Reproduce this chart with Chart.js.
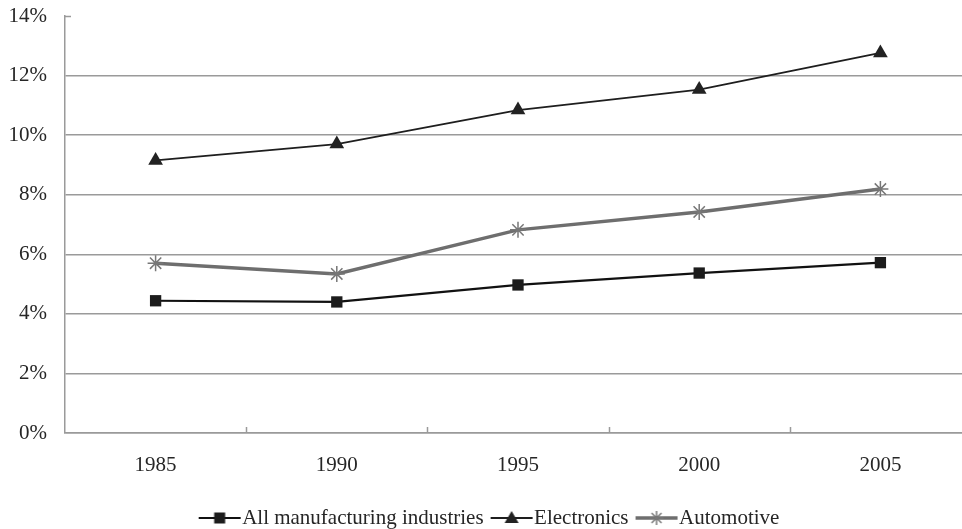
<!DOCTYPE html>
<html>
<head>
<meta charset="utf-8">
<script src="https://cdn.jsdelivr.net/npm/chart.js@4/dist/chart.umd.min.js"></script>
<style>
  html, body { margin: 0; padding: 0; overflow: hidden; background: #fff; }
  #wrap { width: 972px; height: 529px; position: relative; }
</style>
</head>
<body>
<div id="wrap"><canvas id="c"></canvas></div>
<script>
// Share of R&D / output by industry, percent
const years = ['1985', '1990', '1995', '2000', '2005'];
const allManufacturing = [4.44, 4.40, 4.97, 5.37, 5.72];
const electronics = [9.15, 9.70, 10.84, 11.53, 12.76];
const automotive = [5.70, 5.34, 6.82, 7.42, 8.19];
const seriesNames = ['All manufacturing industries', 'Electronics', 'Automotive'];
const yMin = 0, yMax = 14, yStep = 2;

const FONT = '"Liberation Serif", "Times New Roman", serif';
const GRID = '#9a9a9a';
const TEXT = '#262626';

// Small line-plus-marker swatches for the legend
function swatch(kind) {
  const c = document.createElement('canvas');
  c.width = 60; c.height = 22;
  const g = c.getContext('2d');
  const cx = 38, cy = 11;
  g.lineCap = 'butt';
  if (kind === 'rect') {
    g.strokeStyle = '#111'; g.lineWidth = 2.2;
    g.beginPath(); g.moveTo(17, cy); g.lineTo(59, cy); g.stroke();
    g.fillStyle = '#1c1c1c';
    g.fillRect(cx - 5.5, cy - 5.5, 11, 11);
  } else if (kind === 'triangle') {
    g.strokeStyle = '#1e1e1e'; g.lineWidth = 1.8;
    g.beginPath(); g.moveTo(17, cy); g.lineTo(59, cy); g.stroke();
    g.fillStyle = '#222';
    g.beginPath();
    g.moveTo(cx, cy - 7); g.lineTo(cx + 7, cy + 5); g.lineTo(cx - 7, cy + 5);
    g.closePath(); g.fill();
  } else {
    g.strokeStyle = '#6e6e6e'; g.lineWidth = 3.5;
    g.beginPath(); g.moveTo(17, cy); g.lineTo(59, cy); g.stroke();
    g.strokeStyle = '#777'; g.lineWidth = 1.5;
    g.beginPath();
    for (let k = 0; k < 4; k++) {
      const a = k * Math.PI / 4;
      g.moveTo(cx - 7 * Math.cos(a), cy - 7 * Math.sin(a));
      g.lineTo(cx + 7 * Math.cos(a), cy + 7 * Math.sin(a));
    }
    g.stroke();
  }
  return c;
}
const legendSwatches = [swatch('rect'), swatch('triangle'), swatch('star')];

// Inward tick marks between categories and at the top of the value axis
const innerTicks = {
  id: 'innerTicks',
  afterDraw(chart) {
    const { ctx, scales: { x, y } } = chart;
    ctx.save();
    ctx.strokeStyle = GRID;
    ctx.lineWidth = 1.5;
    ctx.beginPath();
    for (let i = 0; i < years.length - 1; i++) {
      const px = Math.round((x.getPixelForValue(i) + x.getPixelForValue(i + 1)) / 2) + 0.5;
      ctx.moveTo(px, x.top);
      ctx.lineTo(px, x.top - 6);
    }
    const ty = Math.round(y.getPixelForValue(yMax)) + 0.5;
    ctx.moveTo(y.right, ty);
    ctx.lineTo(y.right + 6, ty);
    ctx.stroke();
    ctx.restore();
  }
};

new Chart(document.getElementById('c'), {
  type: 'line',
  data: {
    labels: years,
    datasets: [
      {
        label: seriesNames[0],
        data: allManufacturing,
        borderColor: '#111',
        borderWidth: 2.2,
        pointStyle: 'rect',
        pointRadius: 8,
        pointBackgroundColor: '#1c1c1c',
        pointBorderColor: '#1c1c1c',
        pointBorderWidth: 0,
        tension: 0
      },
      {
        label: seriesNames[1],
        data: electronics,
        borderColor: '#1e1e1e',
        borderWidth: 1.8,
        pointStyle: 'triangle',
        pointRadius: 8.5,
        pointBackgroundColor: '#222',
        pointBorderColor: '#222',
        pointBorderWidth: 0,
        tension: 0
      },
      {
        label: seriesNames[2],
        data: automotive,
        borderColor: '#6e6e6e',
        borderWidth: 3.5,
        pointStyle: 'star',
        pointRadius: 8,
        pointBackgroundColor: '#777',
        pointBorderColor: '#777',
        pointBorderWidth: 1.5,
        tension: 0
      }
    ]
  },
  options: {
    responsive: true,
    maintainAspectRatio: false,
    animation: false,
    devicePixelRatio: 1,
    layout: { autoPadding: false, padding: { left: 0, right: 1, top: 16, bottom: -9.5 } },
    scales: {
      x: {
        type: 'category',
        offset: true,
        grid: { display: true, drawOnChartArea: false, drawTicks: false, offset: true },
        border: { display: true, color: GRID, width: 1.5 },
        ticks: {
          padding: 20,
          color: TEXT,
          font: { family: FONT, size: 21 },
          maxRotation: 0
        },
        afterFit(scale) { scale.height = 74.5; }
      },
      y: {
        min: yMin,
        max: yMax,
        grid: {
          drawTicks: true,
          tickLength: 18,
          tickColor: 'rgba(0,0,0,0)',
          lineWidth: 1.5,
          color: (ctx) => (ctx.tick && ctx.tick.value === yMax) ? 'rgba(0,0,0,0)' : GRID
        },
        border: { display: true, color: GRID, width: 1.5 },
        ticks: {
          stepSize: yStep,
          padding: 0,
          color: TEXT,
          font: { family: FONT, size: 21 },
          callback: (v) => v + '%'
        },
        afterFit(scale) { scale.width = 65; }
      }
    },
    plugins: {
      legend: {
        position: 'bottom',
        labels: {
          usePointStyle: true,
          pointStyleWidth: 40,
          padding: 0,
          color: TEXT,
          font: { family: FONT, size: 21 },
          generateLabels(chart) {
            const items = Chart.defaults.plugins.legend.labels.generateLabels(chart);
            items.forEach((it, i) => { it.pointStyle = legendSwatches[i]; });
            return items;
          }
        }
      },
      tooltip: { enabled: false }
    }
  },
  plugins: [innerTicks]
});
</script>
</body>
</html>
